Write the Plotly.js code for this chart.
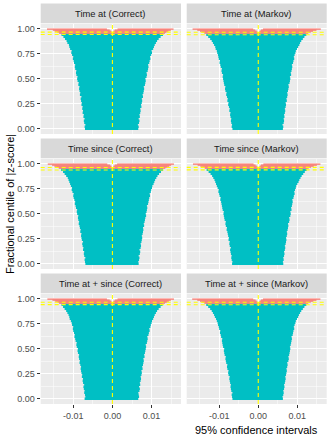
<!DOCTYPE html>
<html>
<head>
<meta charset="utf-8">
<script src="https://cdn.plot.ly/plotly-3.0.1.min.js"></script>
<style>
  html, body { margin: 0; padding: 0; background: #fff; }
  #chart { width: 330px; height: 440px; }
</style>
</head>
<body>
<div id="chart"></div>
<script>
// facet labels, row by row
const panels = ["Time at (Correct)", "Time at (Markov)", "Time since (Correct)", "Time since (Markov)", "Time at + since (Correct)", "Time at + since (Markov)"]

// fractional centile of |z| for intervals that cover the true value
const centile = [0, 0.02, 0.04, 0.06, 0.08, 0.10, 0.12, 0.14, 0.16, 0.18, 0.20, 0.22, 0.24, 0.26, 0.28, 0.30,
  0.32, 0.34, 0.36, 0.38, 0.40, 0.42, 0.44, 0.46, 0.48, 0.50, 0.52, 0.54, 0.56, 0.58, 0.60, 0.62,
  0.64, 0.66, 0.68, 0.70, 0.72, 0.74, 0.76, 0.78, 0.80, 0.82, 0.84, 0.86, 0.88, 0.90, 0.92, 0.94]
// ... and for intervals that miss it (left-hand ones, then right-hand ones)
const missCentile = [0.955, 0.965, 0.975, 0.985, 0.995, 0.955, 0.965, 0.975, 0.985, 0.995]

// interval limits, in units of 1e-3
const coverLow = [
  [-7.0,-7.1,-6.9,-7.2,-7.3,-7.1,-7.4,-7.3,-7.6,-7.5,-7.7,-7.6,-7.9,-7.8,-8.0,-8.1,-7.9,-8.3,-8.2,-8.4,-8.5,-8.4,-8.7,-8.6,-8.9,-9.0,-8.9,-9.2,-9.3,-9.2,-9.5,-9.6,-9.5,-9.8,-9.9,-10.1,-10.0,-10.3,-10.5,-10.4,-10.8,-11.0,-11.1,-11.5,-11.7,-12.1,-12.5,-13.0],
  [-6.6,-6.8,-6.7,-6.9,-7.0,-6.9,-7.1,-7.2,-7.1,-7.4,-7.3,-7.5,-7.7,-7.6,-7.9,-7.8,-8.0,-8.2,-8.1,-8.4,-8.5,-8.4,-8.7,-8.8,-8.9,-9.0,-9.1,-9.0,-9.3,-9.4,-9.3,-9.6,-9.7,-9.9,-9.8,-10.1,-10.2,-10.3,-10.5,-10.6,-10.9,-11.0,-11.3,-11.6,-11.9,-12.3,-12.8,-13.3],
  [-6.9,-7.0,-7.1,-6.9,-7.2,-7.3,-7.2,-7.5,-7.4,-7.6,-7.7,-7.5,-7.8,-7.9,-8.0,-7.9,-8.2,-8.1,-8.3,-8.4,-8.6,-8.5,-8.7,-8.8,-8.7,-9.0,-9.1,-9.0,-9.3,-9.4,-9.6,-9.5,-9.7,-9.9,-10.0,-9.9,-10.2,-10.4,-10.3,-10.6,-10.8,-11.0,-11.2,-11.4,-11.8,-12.2,-12.6,-13.1],
  [-6.7,-6.6,-6.8,-6.9,-6.8,-7.0,-7.1,-7.2,-7.0,-7.3,-7.4,-7.3,-7.6,-7.5,-7.7,-7.8,-7.9,-8.1,-8.0,-8.3,-8.4,-8.3,-8.6,-8.7,-8.8,-8.9,-8.8,-9.1,-9.2,-9.3,-9.4,-9.5,-9.7,-9.6,-9.9,-10.0,-10.2,-10.1,-10.4,-10.6,-10.8,-11.0,-11.2,-11.5,-11.8,-12.2,-12.7,-13.2],
  [-7.1,-6.9,-7.0,-7.2,-7.1,-7.3,-7.4,-7.2,-7.5,-7.6,-7.5,-7.8,-7.7,-7.9,-8.0,-8.1,-8.0,-8.2,-8.4,-8.3,-8.5,-8.6,-8.5,-8.8,-8.9,-8.8,-9.1,-9.2,-9.1,-9.4,-9.5,-9.7,-9.6,-9.8,-10.0,-10.1,-10.0,-10.3,-10.4,-10.6,-10.9,-11.0,-11.2,-11.5,-11.8,-12.2,-12.6,-13.0],
  [-6.6,-6.7,-6.8,-6.6,-6.9,-7.0,-7.1,-7.0,-7.2,-7.3,-7.4,-7.3,-7.6,-7.7,-7.6,-7.9,-8.0,-7.9,-8.2,-8.3,-8.4,-8.3,-8.6,-8.7,-8.8,-8.7,-9.0,-9.1,-9.2,-9.3,-9.2,-9.5,-9.6,-9.8,-9.7,-10.0,-10.1,-10.3,-10.4,-10.6,-10.8,-11.1,-11.3,-11.6,-11.9,-12.3,-12.8,-13.3]
]
const coverHigh = [
  [6.6,6.7,6.5,6.8,6.9,6.7,7.0,6.9,7.1,7.2,7.1,7.4,7.3,7.5,7.6,7.5,7.8,7.7,7.9,8.0,8.1,8.0,8.3,8.4,8.5,8.4,8.7,8.8,8.7,9.0,9.1,9.2,9.1,9.4,9.5,9.7,9.6,9.9,10.1,10.0,10.4,10.6,10.8,11.1,11.4,11.8,12.3,12.9],
  [6.3,6.4,6.2,6.5,6.6,6.5,6.7,6.6,6.8,6.9,6.8,7.0,7.1,7.0,7.3,7.2,7.4,7.5,7.4,7.6,7.7,7.8,7.7,8.0,8.1,8.2,8.1,8.4,8.3,8.5,8.6,8.7,8.6,8.9,9.0,9.2,9.1,9.3,9.5,9.6,9.9,10.2,10.5,10.7,11.0,11.4,11.8,12.3],
  [6.7,6.6,6.8,6.9,6.7,7.0,7.1,6.9,7.2,7.3,7.2,7.4,7.5,7.6,7.5,7.7,7.8,7.9,7.8,8.1,8.0,8.2,8.3,8.4,8.6,8.5,8.7,8.8,8.9,8.8,9.1,9.2,9.3,9.4,9.6,9.5,9.8,9.9,10.1,10.2,10.5,10.7,10.9,11.2,11.5,11.9,12.4,12.9],
  [6.4,6.3,6.5,6.4,6.6,6.7,6.6,6.8,6.9,6.8,7.0,7.1,7.2,7.1,7.3,7.4,7.3,7.5,7.6,7.7,7.6,7.9,8.0,7.9,8.2,8.3,8.2,8.5,8.4,8.6,8.7,8.8,8.7,9.0,9.1,9.3,9.2,9.4,9.6,9.7,10.0,10.3,10.5,10.8,11.1,11.5,11.9,12.4],
  [6.6,6.8,6.7,6.6,6.9,7.0,6.8,7.1,7.0,7.2,7.3,7.2,7.4,7.5,7.4,7.7,7.6,7.8,7.9,8.0,7.9,8.2,8.1,8.3,8.4,8.5,8.6,8.5,8.8,8.9,9.0,8.9,9.2,9.3,9.5,9.4,9.7,9.8,10.0,10.1,10.4,10.6,10.8,11.1,11.4,11.8,12.3,12.8],
  [6.3,6.2,6.4,6.5,6.4,6.6,6.7,6.6,6.8,6.9,7.0,6.9,7.1,7.2,7.3,7.2,7.4,7.5,7.4,7.7,7.8,7.7,7.9,8.0,8.1,8.2,8.1,8.3,8.4,8.5,8.6,8.5,8.8,8.9,9.0,9.2,9.1,9.3,9.5,9.6,9.9,10.2,10.4,10.7,11.0,11.4,11.8,12.3]
]
const missLow = [
  [-13.6,-14.1,-14.7,-15.2,-16.7, 0.1,0.2,0.3,0.6,1.3],
  [-13.8,-14.3,-14.9,-15.6,-16.8, 0.1,0.2,0.4,0.7,1.2],
  [-13.7,-14.2,-14.8,-15.4,-16.5, 0.1,0.2,0.3,0.6,1.2],
  [-13.7,-14.2,-14.8,-15.5,-16.7, 0.1,0.2,0.4,0.7,1.3],
  [-13.6,-14.0,-14.6,-15.3,-16.6, 0.1,0.2,0.3,0.7,1.3],
  [-13.8,-14.3,-14.9,-15.6,-16.9, 0.1,0.2,0.4,0.7,1.2]
]
const missHigh = [
  [-0.1,-0.2,-0.3,-0.7,-1.4, 13.4,13.8,14.3,14.9,15.6],
  [-0.1,-0.2,-0.4,-0.8,-1.3, 12.8,13.4,14.0,14.9,16.0],
  [-0.1,-0.2,-0.3,-0.6,-1.3, 13.5,14.0,14.5,15.0,15.7],
  [-0.1,-0.2,-0.4,-0.7,-1.2, 12.9,13.5,14.2,15.0,15.9],
  [-0.1,-0.2,-0.3,-0.7,-1.4, 13.4,13.9,14.4,14.9,15.7],
  [-0.1,-0.2,-0.4,-0.7,-1.3, 12.8,13.4,14.1,14.9,15.9]
]

// Monte Carlo CI for coverage, and the true value
const coverLowerCI = [0.942, 0.940, 0.937, 0.938, 0.941, 0.939]
const coverUpperCI = [0.966, 0.964, 0.962, 0.963, 0.965, 0.964]
const trueValue = 0

const xTicks = [-0.01, 0, 0.01]
const xTickText = ["-0.01", "0.00", "0.01"]
const yTicks = [0, 0.25, 0.5, 0.75, 1]
const yTickText = ["0.00", "0.25", "0.50", "0.75", "1.00"]

// ---- geometry (pixels) ----
const W = 330, H = 440
const colX = [[40.7, 181], [186.7, 326.7]]
const rowY = [[23.5, 134], [158.5, 269], [293.5, 404]]
const stripH = 19.5
const FONT = "Liberation Sans, Arial, sans-serif"
const TEAL = "#00BFC4", SALMON = "#F8766D"
const scale = v => v / 1000

const data = []
const layout = {
  width: W, height: H,
  margin: {l: 0, r: 0, t: 0, b: 0},
  paper_bgcolor: "white",
  plot_bgcolor: "#EBEBEB",
  barmode: "overlay",
  showlegend: false,
  hovermode: false,
  shapes: [],
  annotations: []
}

panels.forEach((name, i) => {
  const row = Math.floor(i / 2), col = i % 2
  const sfx = i === 0 ? "" : String(i + 1)
  const [x0, x1] = colX[col]
  const [top, bottom] = rowY[row]
  const n = Math.min(centile.length, coverLow[i].length, coverHigh[i].length)

  // rows overlap a little so no pixel gaps show between them
  data.push({
    type: "bar", orientation: "h",
    y: centile.slice(0, n),
    base: coverLow[i].slice(0, n).map(scale),
    x: coverHigh[i].slice(0, n).map((h, k) => scale(h - coverLow[i][k])),
    width: 0.026,
    marker: {color: TEAL, line: {width: 0}},
    xaxis: "x" + sfx, yaxis: "y" + sfx
  })
  data.push({
    type: "bar", orientation: "h",
    y: missCentile,
    base: missLow[i].map(scale),
    x: missHigh[i].map((h, k) => scale(h - missLow[i][k])),
    width: 0.013,
    marker: {color: SALMON, line: {width: 0}},
    xaxis: "x" + sfx, yaxis: "y" + sfx
  })

  layout["xaxis" + sfx] = {
    domain: [x0 / W, x1 / W], anchor: "y" + sfx,
    range: [-0.0183, 0.0175],
    tickmode: "array", tickvals: xTicks, ticktext: xTickText,
    showticklabels: row === 2, ticks: row === 2 ? "outside" : "",
    ticklen: 3, tickwidth: 1, tickcolor: "#333333",
    tickfont: {family: FONT, size: 9, color: "#4D4D4D"},
    showgrid: true, gridcolor: "white", gridwidth: 1.1,
    minor: {tickmode: "array", tickvals: [-0.015, -0.005, 0.005, 0.015], showgrid: true, gridcolor: "white", gridwidth: 0.5, ticks: ""},
    zeroline: false, showline: false, fixedrange: true
  }
  layout["yaxis" + sfx] = {
    domain: [1 - bottom / H, 1 - top / H], anchor: "x" + sfx,
    range: [-0.053, 1.052],
    tickmode: "array", tickvals: yTicks, ticktext: yTickText,
    showticklabels: col === 0, ticks: col === 0 ? "outside" : "",
    ticklen: 3, tickwidth: 1, tickcolor: "#333333",
    tickfont: {family: FONT, size: 9, color: "#4D4D4D"},
    showgrid: true, gridcolor: "white", gridwidth: 1.1,
    minor: {tickmode: "array", tickvals: [0.125, 0.375, 0.625, 0.875], showgrid: true, gridcolor: "white", gridwidth: 0.5, ticks: ""},
    zeroline: false, showline: false, fixedrange: true
  }

  // facet strip
  layout.shapes.push({
    type: "rect", xref: "paper", yref: "paper",
    x0: x0 / W, x1: x1 / W, y0: 1 - (top - 0.5) / H, y1: 1 - (top - 0.5 - stripH) / H,
    fillcolor: "#D9D9D9", line: {width: 0}
  })
  layout.annotations.push({
    text: name, xref: "paper", yref: "paper",
    x: (x0 + x1) / 2 / W, y: 1 - (top - 0.5 - stripH / 2) / H,
    xanchor: "center", yanchor: "middle", showarrow: false,
    font: {family: FONT, size: 9.4, color: "#1A1A1A"}
  })

  // reference lines
  const dash = {color: "#FFFF00", width: 1.1, dash: "4px,3px"}
  layout.shapes.push({type: "line", xref: "x" + sfx, yref: "y" + sfx + " domain", x0: trueValue, x1: trueValue, y0: 0, y1: 1, line: dash})
  ;[coverLowerCI[i], coverUpperCI[i]].forEach(v => {
    layout.shapes.push({type: "line", xref: "x" + sfx + " domain", yref: "y" + sfx, x0: 0, x1: 1, y0: v, y1: v, line: dash})
  })
})

// axis titles
layout.annotations.push({
  text: "95% confidence intervals", xref: "paper", yref: "paper",
  x: 256.7 / W, y: 1 - 430 / H, xanchor: "center", yanchor: "middle", showarrow: false,
  font: {family: FONT, size: 11, color: "#000000"}
})
layout.annotations.push({
  text: "Fractional centile of |z-score|", xref: "paper", yref: "paper",
  x: 10 / W, y: 1 - 204 / H, xanchor: "center", yanchor: "middle", showarrow: false, textangle: -90,
  font: {family: FONT, size: 11, color: "#000000"}
})

Plotly.newPlot("chart", data, layout, {displayModeBar: false, staticPlot: true})
</script>
</body>
</html>
